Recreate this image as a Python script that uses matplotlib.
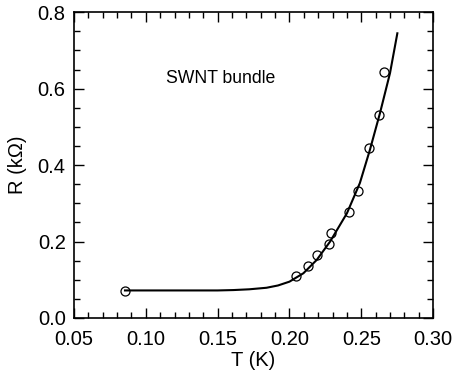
import matplotlib.pyplot as plt
from matplotlib.ticker import MultipleLocator

plt.rcParams["font.family"] = ["Liberation Sans", "DejaVu Sans"]

# measured points
t_data = [0.0855, 0.2048, 0.2127, 0.2190, 0.2276, 0.2290, 0.2413, 0.2478, 0.2557, 0.2624, 0.2661]
r_data = [0.071, 0.110, 0.137, 0.165, 0.194, 0.222, 0.277, 0.333, 0.446, 0.531, 0.643]

# fit curve
t_fit = [0.0855, 0.120, 0.150, 0.161, 0.172, 0.184, 0.192, 0.200, 0.2097, 0.219,
         0.2283, 0.240, 0.249, 0.256, 0.263, 0.270, 0.2751]
r_fit = [0.072, 0.072, 0.072, 0.073, 0.075, 0.079, 0.085, 0.095, 0.117, 0.152,
         0.200, 0.274, 0.353, 0.440, 0.536, 0.641, 0.745]

fig = plt.figure(figsize=(4.54, 3.84), dpi=100)
ax = fig.add_axes([0.163, 0.172, 0.791, 0.796])

ax.plot(t_fit, r_fit, color="black", linewidth=1.5)
ax.plot(t_data, r_data, "o", markersize=6.5, markerfacecolor="none",
        markeredgecolor="black", markeredgewidth=0.9)

ax.set_xlim(0.05, 0.30)
ax.set_ylim(0.0, 0.8)
ax.xaxis.set_major_locator(MultipleLocator(0.05))
ax.xaxis.set_minor_locator(MultipleLocator(0.01))
ax.yaxis.set_major_locator(MultipleLocator(0.2))
ax.yaxis.set_minor_locator(MultipleLocator(0.05))
ax.xaxis.set_major_formatter(plt.FormatStrFormatter("%.2f"))
ax.yaxis.set_major_formatter(plt.FormatStrFormatter("%.1f"))

ax.tick_params(which="both", direction="in", top=True, right=True, width=1.0)
ax.tick_params(which="major", length=7, labelsize=14.5)
ax.tick_params(axis="x", which="major", pad=9)
ax.tick_params(axis="y", which="major", pad=6)
ax.tick_params(which="minor", length=4)
for s in ax.spines.values():
    s.set_linewidth(1.2)

ax.set_xlabel("T (K)", fontsize=14.5, labelpad=1)
ax.set_ylabel("R (k\u03a9)", fontsize=14.5, labelpad=8)

ax.text(0.1139, 0.626, "SWNT bundle", fontsize=12.7, ha="left", va="center")

fig.savefig("out.png", dpi=100)
